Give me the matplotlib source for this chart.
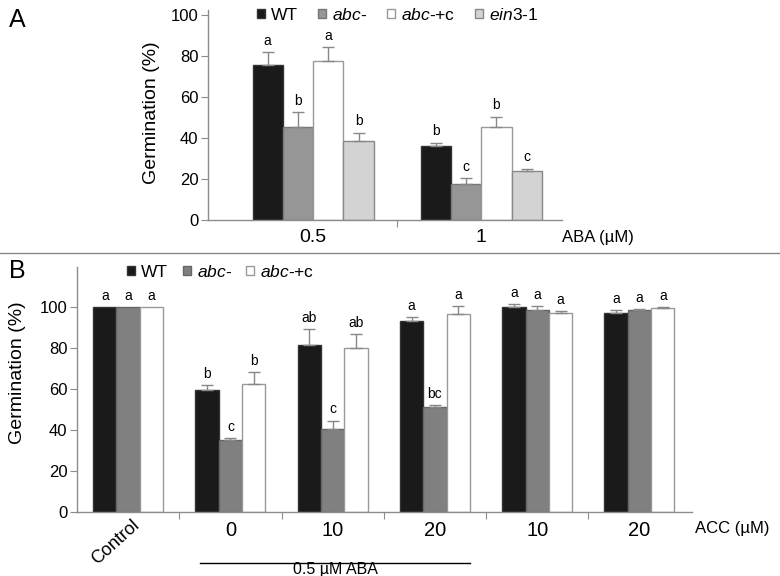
import numpy as np
import matplotlib
matplotlib.use('Agg')
import matplotlib.pyplot as plt
from matplotlib.patches import Patch
from matplotlib.lines import Line2D
import matplotlib.transforms as mtransforms

plt.rcParams['font.family'] = ['Liberation Sans', 'DejaVu Sans']
plt.rcParams['mathtext.fontset'] = 'custom'
plt.rcParams['mathtext.rm'] = 'Liberation Sans'
plt.rcParams['mathtext.it'] = 'Liberation Sans:italic'

# panel A data
a_groups = ['0.5', '1']
a_series = ['WT', r'$\mathit{abc}$-', r'$\mathit{abc}$-+c', r'$\mathit{ein3}$-1']
a_vals = [[75.6, 36.1], [45.5, 17.6], [77.6, 45.4], [38.9, 24.2]]
a_err = [[6.2, 1.8], [7.3, 3.0], [6.9, 5.2], [3.9, 1.0]]
a_letters = [['a', 'b'], ['b', 'c'], ['a', 'b'], ['b', 'c']]
a_colors = ['#1a1a1a', '#969696', '#ffffff', '#d3d3d3']
a_edges = ['#333333', '#777777', '#999999', '#888888']

# panel B data
b_groups = ['Control', '0', '10', '20', '10', '20']
b_series = ['WT', r'$\mathit{abc}$-', r'$\mathit{abc}$-+c']
b_vals = [[100, 59.5, 81.5, 93.2, 100, 96.8],
          [100, 35.0, 40.4, 51.2, 98.2, 98.2],
          [100, 62.5, 79.8, 96.6, 96.8, 99.2]]
b_err = [[0, 2.3, 7.5, 1.9, 1.2, 1.7],
         [0, 1.1, 4.2, 0.8, 2.0, 0.8],
         [0, 5.6, 7.1, 3.6, 1.3, 0.8]]
b_letters = [['a', 'b', 'ab', 'a', 'a', 'a'],
             ['a', 'c', 'c', 'bc', 'a', 'a'],
             ['a', 'b', 'ab', 'a', 'a', 'a']]
b_colors = ['#1a1a1a', '#808080', '#ffffff']
b_edges = ['#333333', '#666666', '#999999']

spine_c = '#8c8c8c'

fig = plt.figure(figsize=(7.8, 5.76), dpi=100)

def style_axes(ax, catsize, catpad):
    for s in ['top', 'right']:
        ax.spines[s].set_visible(False)
    for s in ['left', 'bottom']:
        ax.spines[s].set_color(spine_c)
        ax.spines[s].set_linewidth(1)
    ax.tick_params(axis='y', which='major', color=spine_c, length=5, labelsize=12, pad=2)
    ax.tick_params(axis='x', which='major', color=spine_c, length=5, labelbottom=False)
    ax.tick_params(axis='x', which='minor', length=0, labelsize=catsize, pad=catpad)

# ---------- Panel A ----------
axA = fig.add_axes([0.2667, 0.6175, 0.4538, 0.3651])
w = 0.18
xa = np.arange(len(a_groups))
for i in range(4):
    pos = xa + (i - 1.5) * w
    axA.bar(pos, a_vals[i], w, color=a_colors[i], edgecolor=a_edges[i], linewidth=1, label=a_series[i])
    axA.errorbar(pos, a_vals[i], yerr=[np.zeros(2), a_err[i]], fmt='none', ecolor='#888888',
                 elinewidth=1, capsize=4.3, capthick=1)
    for p, v, e, l in zip(pos, a_vals[i], a_err[i], a_letters[i]):
        axA.annotate(l, (p, v + e), xytext=(0, 3), textcoords='offset points', ha='center', va='bottom', fontsize=10)
axA.set_xlim(-0.625, 1.48)
axA.set_ylim(0, 102.5)
axA.set_yticks([0, 20, 40, 60, 80, 100])
axA.set_xticks([0.5])
axA.set_xticks(xa, minor=True)
axA.set_xticklabels(a_groups, minor=True)
style_axes(axA, 14, 6)
axA.set_ylabel('Germination (%)', fontsize=14)
axA.yaxis.set_label_coords(-0.137, 0.51)
axA.text(1.0, -0.08, 'ABA (µM)', transform=axA.transAxes, ha='left', va='center', fontsize=12)
handles = [Patch(facecolor=a_colors[i], edgecolor=a_edges[i], label=a_series[i]) for i in range(4)]
fig.legend(handles=handles, ncol=4, loc='center left', bbox_to_anchor=(0.330, 0.974), frameon=False,
           fontsize=12.5, handlelength=0.45, handleheight=0.45, handletextpad=0.35, columnspacing=1.15,
           borderpad=0, borderaxespad=0)
fig.text(0.012, 0.965, 'A', fontsize=18, va='center')

# separator
fig.add_artist(Line2D([0, 1], [0.5602, 0.5602], color='#888888', lw=1))

# ---------- Panel B ----------
axB = fig.add_axes([0.0987, 0.1106, 0.788, 0.4264])
w = 0.228
xb = np.arange(len(b_groups))
for i in range(3):
    pos = xb + (i - 1) * w
    axB.bar(pos, b_vals[i], w, color=b_colors[i], edgecolor=b_edges[i], linewidth=1, label=b_series[i])
    e_arr = np.array(b_err[i])
    axB.errorbar(pos[1:], np.array(b_vals[i])[1:], yerr=[np.zeros(5), e_arr[1:]], fmt='none',
                 ecolor='#888888', elinewidth=1, capsize=4.3, capthick=1)
    for p, v, e, l in zip(pos, b_vals[i], b_err[i], b_letters[i]):
        axB.annotate(l, (p, v + e), xytext=(0, 3), textcoords='offset points', ha='center', va='bottom', fontsize=10)
axB.set_xlim(-0.5, 5.51)
axB.set_ylim(0, 119.5)
axB.set_yticks([0, 20, 40, 60, 80, 100])
axB.set_xticks(np.arange(0.5, 5, 1))
axB.set_xticks(xb, minor=True)
axB.set_xticklabels([''] + b_groups[1:], minor=True)
style_axes(axB, 14.5, 6)
axB.set_ylabel('Germination (%)', fontsize=14)
axB.yaxis.set_label_coords(-0.083, 0.567)
trB = mtransforms.blended_transform_factory(axB.transData, axB.transAxes)
axB.text(0.03, -0.018, 'Control', transform=trB, rotation=42, ha='right', va='top',
         fontsize=13, rotation_mode='anchor')
axB.text(1.005, -0.064, 'ACC (µM)', transform=axB.transAxes, ha='left', va='center', fontsize=12)
axB.add_line(Line2D([0.70, 3.34], [-0.205, -0.205], transform=trB, color='black', lw=1, clip_on=False))
axB.text(2.03, -0.231, '0.5 µM ABA', transform=trB, ha='center', va='center', fontsize=11.5)
handles = [Patch(facecolor=b_colors[i], edgecolor=b_edges[i], label=b_series[i]) for i in range(3)]
fig.legend(handles=handles, ncol=3, loc='center left', bbox_to_anchor=(0.163, 0.528), frameon=False,
           fontsize=12.5, handlelength=0.45, handleheight=0.45, handletextpad=0.35, columnspacing=0.85,
           borderpad=0, borderaxespad=0)
fig.text(0.012, 0.53, 'B', fontsize=18, va='center')

fig.savefig('out.png', dpi=100)
